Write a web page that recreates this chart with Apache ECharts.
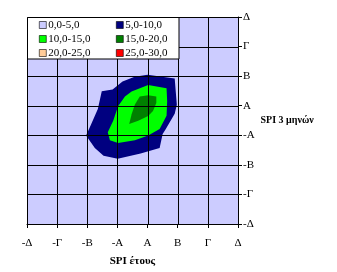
<!DOCTYPE html>
<html>
<head>
<meta charset="utf-8">
<script src="https://cdn.jsdelivr.net/npm/echarts@6/dist/echarts.min.js"></script>
<style>html,body{margin:0;padding:0;background:#fff;}#c{width:337px;height:272px;}</style>
</head>
<body>
<div id="c"></div>
<script>
// Tick labels (axis positions 0..7)
const xLabels = ['-Δ', '-Γ', '-Β', '-Α', 'Α', 'Β', 'Γ', 'Δ'];
const yLabels = ['-Δ', '-Γ', '-Β', '-Α', 'Α', 'Β', 'Γ', 'Δ'];
const tickValues = [0, 1, 2, 3, 4, 5, 6, 7];

// Contour band names
const bandNames = ['0,0-5,0', '5,0-10,0', '10,0-15,0', '15,0-20,0', '20,0-25,0', '25,0-30,0'];

// Contour band boundaries, in axis units (x = SPI έτους index, y = SPI 3 μηνών index)
const band0 = [[0, 0], [7, 0], [7, 7], [0, 7]];
const band1 = [
  [1.96, 2.99], [2.11, 3.33], [2.35, 3.89], [2.48, 4.49], [2.84, 4.55], [3.17, 4.82],
  [3.57, 4.98], [4.00, 5.05], [4.90, 4.92], [4.97, 4.03], [4.90, 3.73], [4.60, 3.20],
  [4.50, 3.04], [4.40, 2.57], [3.77, 2.38], [3.01, 2.21], [2.54, 2.31], [2.25, 2.57]
];
const band2 = [
  [3.47, 4.48], [4.02, 4.70], [4.63, 4.59], [4.65, 4.15], [4.63, 3.66], [4.40, 3.21],
  [4.02, 2.99], [3.58, 2.83], [3.02, 2.74], [2.75, 2.83], [2.68, 3.10], [2.86, 3.49],
  [3.02, 3.98], [3.25, 4.31]
];
const band3 = [
  [3.74, 4.31], [4.02, 4.35], [4.29, 4.31], [4.29, 4.09], [4.18, 3.82], [4.02, 3.65],
  [3.69, 3.49], [3.39, 3.38], [3.47, 3.71], [3.58, 4.04]
];
const band4 = [];
const band5 = [];

const bandData = [band0, band1, band2, band3, band4, band5];
const bandColors = ['#CCCCFF', '#000080', '#00FF00', '#008000', '#FFCC99', '#FF0000'];

const FONT = 'Liberation Serif';

const series = bandNames.map((name, i) => ({
  name: name,
  type: 'custom',
  color: bandColors[i],
  z: 2,
  clip: true,
  silent: true,
  encode: { x: 0, y: 1 },
  data: bandData[i],
  renderItem: function (params, api) {
    if (params.dataIndex !== 0) return null;
    return {
      type: 'polygon',
      shape: { points: bandData[i].map(p => api.coord(p)) },
      style: { fill: api.visual('color'), stroke: null }
    };
  }
}));

// Grid lines at every tick, drawn above the contour bands
const crisp = v => Math.round(v) + 0.5;
series.push({
  name: 'gridV', type: 'custom', z: 5, silent: true, clip: false,
  data: tickValues.map(v => [v]),
  encode: { x: 0 },
  renderItem: function (params, api) {
    const v = api.value(0);
    const a = api.coord([v, 0]), b = api.coord([v, 7]);
    const x = crisp(a[0]);
    return { type: 'line', shape: { x1: x, y1: crisp(a[1]), x2: x, y2: crisp(b[1]) },
      style: { stroke: '#000', lineWidth: 1 } };
  }
});
series.push({
  name: 'gridH', type: 'custom', z: 5, silent: true, clip: false,
  data: tickValues.map(v => [0, v]),
  encode: { x: 0, y: 1 },
  renderItem: function (params, api) {
    const v = api.value(1);
    const a = api.coord([0, v]), b = api.coord([7, v]);
    const y = crisp(a[1]);
    return { type: 'line', shape: { x1: crisp(a[0]), y1: y, x2: crisp(b[0]), y2: y },
      style: { stroke: '#000', lineWidth: 1 } };
  }
});

const legendCommon = {
  orient: 'vertical', top: 18, padding: 0, itemGap: 0, z: 11,
  itemWidth: 7, itemHeight: 7, icon: 'rect', selectedMode: false,
  itemStyle: { borderColor: '#000', borderWidth: 0.6 },
  textStyle: { fontFamily: FONT, fontSize: 11, color: '#000', lineHeight: 14, padding: [0, 0, 0, -3] }
};

const chart = echarts.init(document.getElementById('c'), null, { renderer: 'canvas' });
chart.setOption({
  animation: false,
  textStyle: { fontFamily: FONT },
  grid: { left: 27, right: 99, top: 17, bottom: 43 },
  xAxis: {
    type: 'value', min: 0, max: 7, interval: 1, z: 6,
    axisLine: { show: true, onZero: false, lineStyle: { color: '#000', width: 1 } },
    axisTick: { show: true, length: 4, lineStyle: { color: '#000' } },
    splitLine: { show: false },
    axisLabel: { color: '#000', fontFamily: FONT, fontSize: 11, margin: 14, formatter: v => xLabels[v] },
    name: 'SPI έτους', nameLocation: 'middle', nameGap: 32,
    nameTextStyle: { color: '#000', fontFamily: FONT, fontSize: 11, fontWeight: 'bold' }
  },
  yAxis: {
    type: 'value', min: 0, max: 7, interval: 1, position: 'right', z: 6,
    axisLine: { show: true, onZero: false, lineStyle: { color: '#000', width: 1 } },
    axisTick: { show: true, length: 4, lineStyle: { color: '#000' } },
    splitLine: { show: false },
    axisLabel: { color: '#000', fontFamily: FONT, fontSize: 11, margin: 5, formatter: v => yLabels[v] },
    name: 'SPI 3 μηνών', nameLocation: 'middle', nameGap: 15, nameRotate: 0,
    nameTextStyle: { color: '#000', fontFamily: FONT, fontSize: 10, fontWeight: 'bold', align: 'left' }
  },
  graphic: [{
    type: 'rect', z: 10, silent: true,
    shape: { x: 27.5, y: 17.5, width: 151.5, height: 41.5 },
    style: { fill: '#fff', stroke: '#000', lineWidth: 1 }
  }],
  legend: [
    Object.assign({}, legendCommon, { data: [bandNames[0], bandNames[2], bandNames[4]], left: 39 }),
    Object.assign({}, legendCommon, { data: [bandNames[1], bandNames[3], bandNames[5]], left: 116 })
  ],
  series: series
});
</script>
</body>
</html>
